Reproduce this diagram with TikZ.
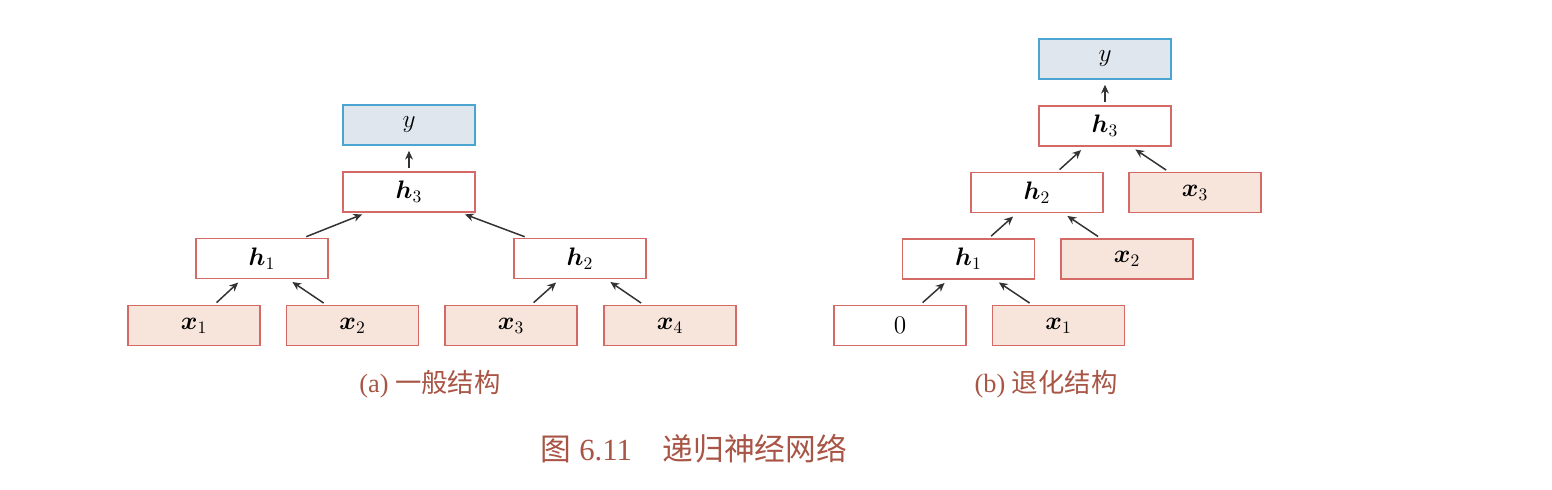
\documentclass[tikz,border=0pt]{standalone}
\usepackage{fontspec}
\usepackage{bm}
\setmainfont{Liberation Serif}
\newfontfamily\cjk{Noto Sans CJK SC}
\usetikzlibrary{arrows.meta,calc}
\definecolor{boxred}{HTML}{D46A66}
\definecolor{xfill}{HTML}{F7E5DC}
\definecolor{yline}{HTML}{4AA5D0}
\definecolor{yfill}{HTML}{E0E6EE}
\definecolor{captred}{HTML}{A85545}
\begin{document}
\begin{tikzpicture}[x=0.02cm,y=-0.02cm,
    unit/.style={draw=boxred,line width=0.6pt,minimum width=2.64cm,minimum height=0.8cm,inner sep=0pt,font=\fontsize{14}{16}\selectfont},
    hid/.style={unit,fill=white},
    inp/.style={unit,fill=xfill},
    outp/.style={unit,draw=yline,fill=yfill},
    arr/.style={-{Stealth[length=5pt,width=4.5pt]},line width=0.85pt,draw=black!80,shorten <=2pt,shorten >=3pt},
    capt/.style={text=captred,font=\fontsize{15}{17}\selectfont}]
    \useasboundingbox (0,0) rectangle (1552,490);
    % (a) general
    \node [outp] (ya) at (409,125) {$y$};
    \node [hid] (h3a) at (409,192) {$\bm{h}_3$};
    \node [hid] (h1a) at (262,258.5) {$\bm{h}_1$};
    \node [hid] (h2a) at (580,258.5) {$\bm{h}_2$};
    \node [inp] (x1a) at (194,325.5) {$\bm{x}_1$};
    \node [inp] (x2a) at (352.5,325.5) {$\bm{x}_2$};
    \node [inp] (x3a) at (511,325.5) {$\bm{x}_3$};
    \node [inp] (x4a) at (670,325.5) {$\bm{x}_4$};
    \draw [arr] ($(h1a.north)+(41,0)$) -- ($(h3a.south)+(-42,0)$);
    \draw [arr] ($(h2a.north)+(-52,0)$) -- ($(h3a.south)+(51,0)$);
    \draw [arr] (h3a) -- (ya);
    \node [capt] (capa) at (430,384) {(a) {\cjk 一般结构}};
    % (b) degenerate
    \node [outp] (yb) at (1105,59) {$y$};
    \node [hid] (h3b) at (1105,126) {$\bm{h}_3$};
    \node [hid] (h2b) at (1037,192.5) {$\bm{h}_2$};
    \node [inp] (x3b) at (1195,192.5) {$\bm{x}_3$};
    \node [hid] (h1b) at (968.5,259) {$\bm{h}_1$};
    \node [inp] (x2b) at (1127,259) {$\bm{x}_2$};
    \node [hid] (zb) at (900,325.5) {$0$};
    \node [inp] (x1b) at (1058.5,325.5) {$\bm{x}_1$};
    \draw [arr] (h3b) -- (yb);
    \node [capt] (capb) at (1046,384) {(b) {\cjk 退化结构}};
    % left and right children
    \foreach \c/\p in {x1a/h1a,x3a/h2a,zb/h1b,h1b/h2b,h2b/h3b}
        \draw [arr] ($(\c.north)+(20,0)$) -- ($(\p.south)+(-20,0)$);
    \foreach \c/\p in {x2a/h1a,x4a/h2a,x1b/h1b,x2b/h2b,x3b/h3b}
        \draw [arr] ($(\c.north)+(-26,0)$) -- ($(\p.south)+(26,0)$);
    \node [capt,font=\fontsize{17.5}{20}\selectfont] (cap) at (694,449) {{\cjk 图} 6.11\quad{\cjk 递归神经网络}};
\end{tikzpicture}
\end{document}
